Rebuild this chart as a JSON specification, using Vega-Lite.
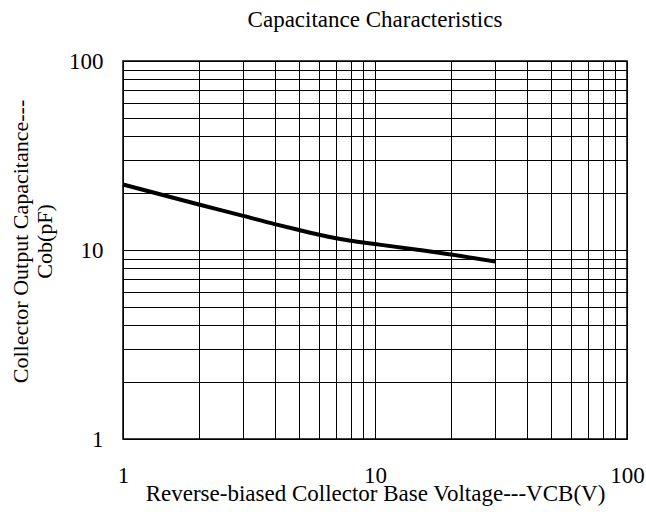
{
  "$schema": "https://vega.github.io/schema/vega-lite/v6.json",
  "autosize": "none",
  "width": 504,
  "height": 378,
  "padding": {"left": 123, "top": 61, "right": 19, "bottom": 73},
  "background": "white",
  "title": {
    "text": "Capacitance Characteristics",
    "font": "Liberation Serif",
    "fontSize": 23,
    "fontWeight": "normal",
    "color": "black",
    "offset": 18
  },
  "data": {
    "values": [
      {"v": 1, "c": 22.2},
      {"v": 2, "c": 17.4},
      {"v": 3, "c": 15.15},
      {"v": 4, "c": 13.7},
      {"v": 5, "c": 12.75},
      {"v": 6, "c": 12.05},
      {"v": 7, "c": 11.55},
      {"v": 8, "c": 11.2},
      {"v": 9, "c": 10.95},
      {"v": 10, "c": 10.75},
      {"v": 15, "c": 10.0},
      {"v": 20, "c": 9.47},
      {"v": 30, "c": 8.69}
    ]
  },
  "config": {
    "view": {"stroke": "black", "strokeWidth": 1.5},
    "axis": {
      "grid": true,
      "gridColor": "black",
      "gridOpacity": 1,
      "gridWidth": 1,
      "domain": false,
      "ticks": false,
      "labelFont": "Liberation Serif",
      "labelFontSize": 23,
      "labelColor": "black",
      "titleFont": "Liberation Serif",
      "titleFontSize": 23,
      "titleFontWeight": "normal",
      "titleColor": "black"
    }
  },
  "mark": {"type": "line", "color": "black", "strokeWidth": 4, "interpolate": "monotone"},
  "encoding": {
    "x": {
      "field": "v",
      "type": "quantitative",
      "scale": {"type": "log", "domain": [1, 100], "nice": false},
      "axis": {
        "values": [1,2,3,4,5,6,7,8,9,10,20,30,40,50,60,70,80,90,100],
        "labelExpr": "datum.value == 1 || datum.value == 10 || datum.value == 100 ? datum.label : ''",
        "labelPadding": 25,
        "labelFlush": false,
        "labelOverlap": false,
        "title": "Reverse-biased Collector Base Voltage---VCB(V)",
        "titleBaseline": "alphabetic",
        "titleY": 61
      }
    },
    "y": {
      "field": "c",
      "type": "quantitative",
      "scale": {"type": "log", "domain": [1, 100], "nice": false},
      "axis": {
        "values": [1,2,3,4,5,6,7,8,9,10,20,30,40,50,60,70,80,90,100],
        "labelExpr": "datum.value == 1 || datum.value == 10 || datum.value == 100 ? datum.label : ''",
        "labelPadding": 20,
        "labelFlush": false,
        "labelOverlap": false,
        "title": ["Collector Output Capacitance---", "Cob(pF)"],
        "titleFontSize": 22,
        "titlePadding": 12,
        "titleY": 180
      }
    }
  }
}
